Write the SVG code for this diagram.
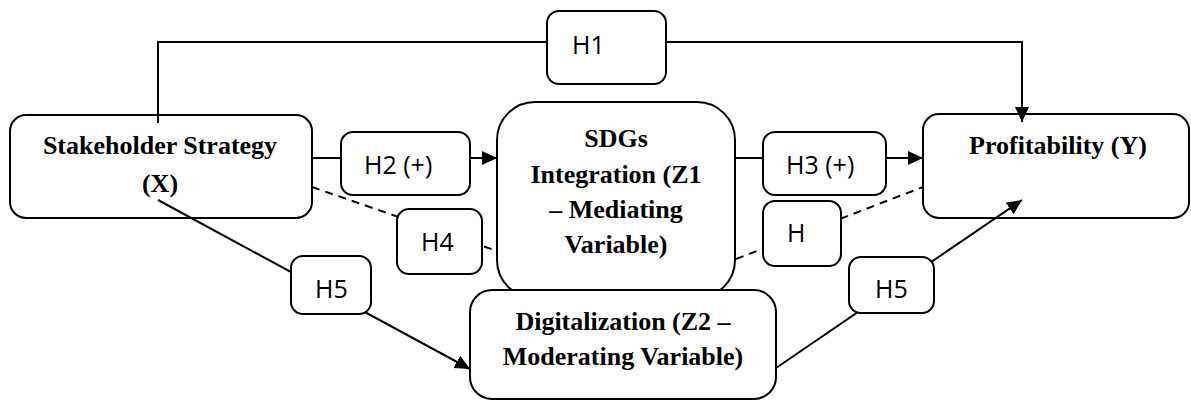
<svg xmlns="http://www.w3.org/2000/svg" width="1191" height="401" viewBox="0 0 1191 401">
<style>
.box{fill:#fff;stroke:#000;stroke-width:2}
.lbl{fill:#fff;stroke:#000;stroke-width:2}
.t{font-family:"Liberation Serif","Times New Roman",serif;font-weight:bold;font-size:26px;fill:#000;text-anchor:middle}
.h{font-family:"Open Sans","Noto Sans",sans-serif;font-size:25px;fill:#000}
.c{fill:none;stroke:#000;stroke-width:2}
.d{fill:none;stroke:#000;stroke-width:2;stroke-dasharray:8,6}
</style>
<defs>
<marker id="arr" markerUnits="userSpaceOnUse" markerWidth="16" markerHeight="15" refX="15" refY="7" orient="auto">
<path d="M0,0 L15,7 L0,14 Z" fill="#000"/>
</marker>
</defs>
<rect width="1191" height="401" fill="#fff"/>
<g id="stakeholder">
<rect class="box" x="10" y="115" width="302" height="103" rx="16"/>
<text class="t" x="160" y="154">Stakeholder Strategy</text>
<text class="t" x="160" y="192">(X)</text>
</g>
<g id="profitability">
<rect class="box" x="923" y="114" width="266" height="104" rx="16"/>
<text class="t" x="1058" y="154">Profitability (Y)</text>
</g>
<g id="sdgs">
<rect class="box" x="497" y="102" width="238" height="196" rx="38"/>
<text class="t" x="616" y="147">SDGs</text>
<text class="t" x="616" y="183">Integration (Z1</text>
<text class="t" x="616" y="218">– Mediating</text>
<text class="t" x="616" y="253">Variable)</text>
</g>
<g id="connectors">
<path class="c" d="M158,123 L158,42 L1022,42 L1022,122" marker-end="url(#arr)"/>
<path class="c" d="M312,158 L497,158" marker-end="url(#arr)"/>
<path class="c" d="M735,158 L923,158" marker-end="url(#arr)"/>
<path class="d" d="M312,187 L494,250"/>
<path class="d" d="M736,259 L923,187"/>
<path class="c" d="M158,200 L470,369" marker-end="url(#arr)"/>
<path class="c" d="M776,368 L1022,200" marker-end="url(#arr)"/>
</g>
<g id="label-h1">
<rect class="lbl" x="547" y="11" width="119" height="73" rx="12"/>
<text class="h" x="572" y="54">H1</text>
</g>
<g id="label-h2">
<rect class="lbl" x="341" y="132" width="129" height="63" rx="12"/>
<text class="h" x="364" y="174">H2 (+)</text>
</g>
<g id="label-h3">
<rect class="lbl" x="763" y="132" width="123" height="63" rx="12"/>
<text class="h" x="786" y="174">H3 (+)</text>
</g>
<g id="label-h4">
<rect class="lbl" x="397" y="209" width="85" height="65" rx="12"/>
<text class="h" x="421" y="251">H4</text>
</g>
<g id="label-h">
<rect class="lbl" x="763" y="201" width="78" height="65" rx="12"/>
<text class="h" x="787" y="242">H</text>
</g>
<g id="label-h5-left">
<rect class="lbl" x="291" y="256" width="80" height="58" rx="12"/>
<text class="h" x="315" y="298">H5</text>
</g>
<g id="label-h5-right">
<rect class="lbl" x="849" y="257" width="85" height="56" rx="12"/>
<text class="h" x="875" y="298">H5</text>
</g>
<g id="digitalization">
<rect class="box" x="470" y="290" width="306" height="109" rx="22"/>
<text class="t" x="623" y="330">Digitalization (Z2 –</text>
<text class="t" x="623" y="365">Moderating Variable)</text>
</g>
</svg>
